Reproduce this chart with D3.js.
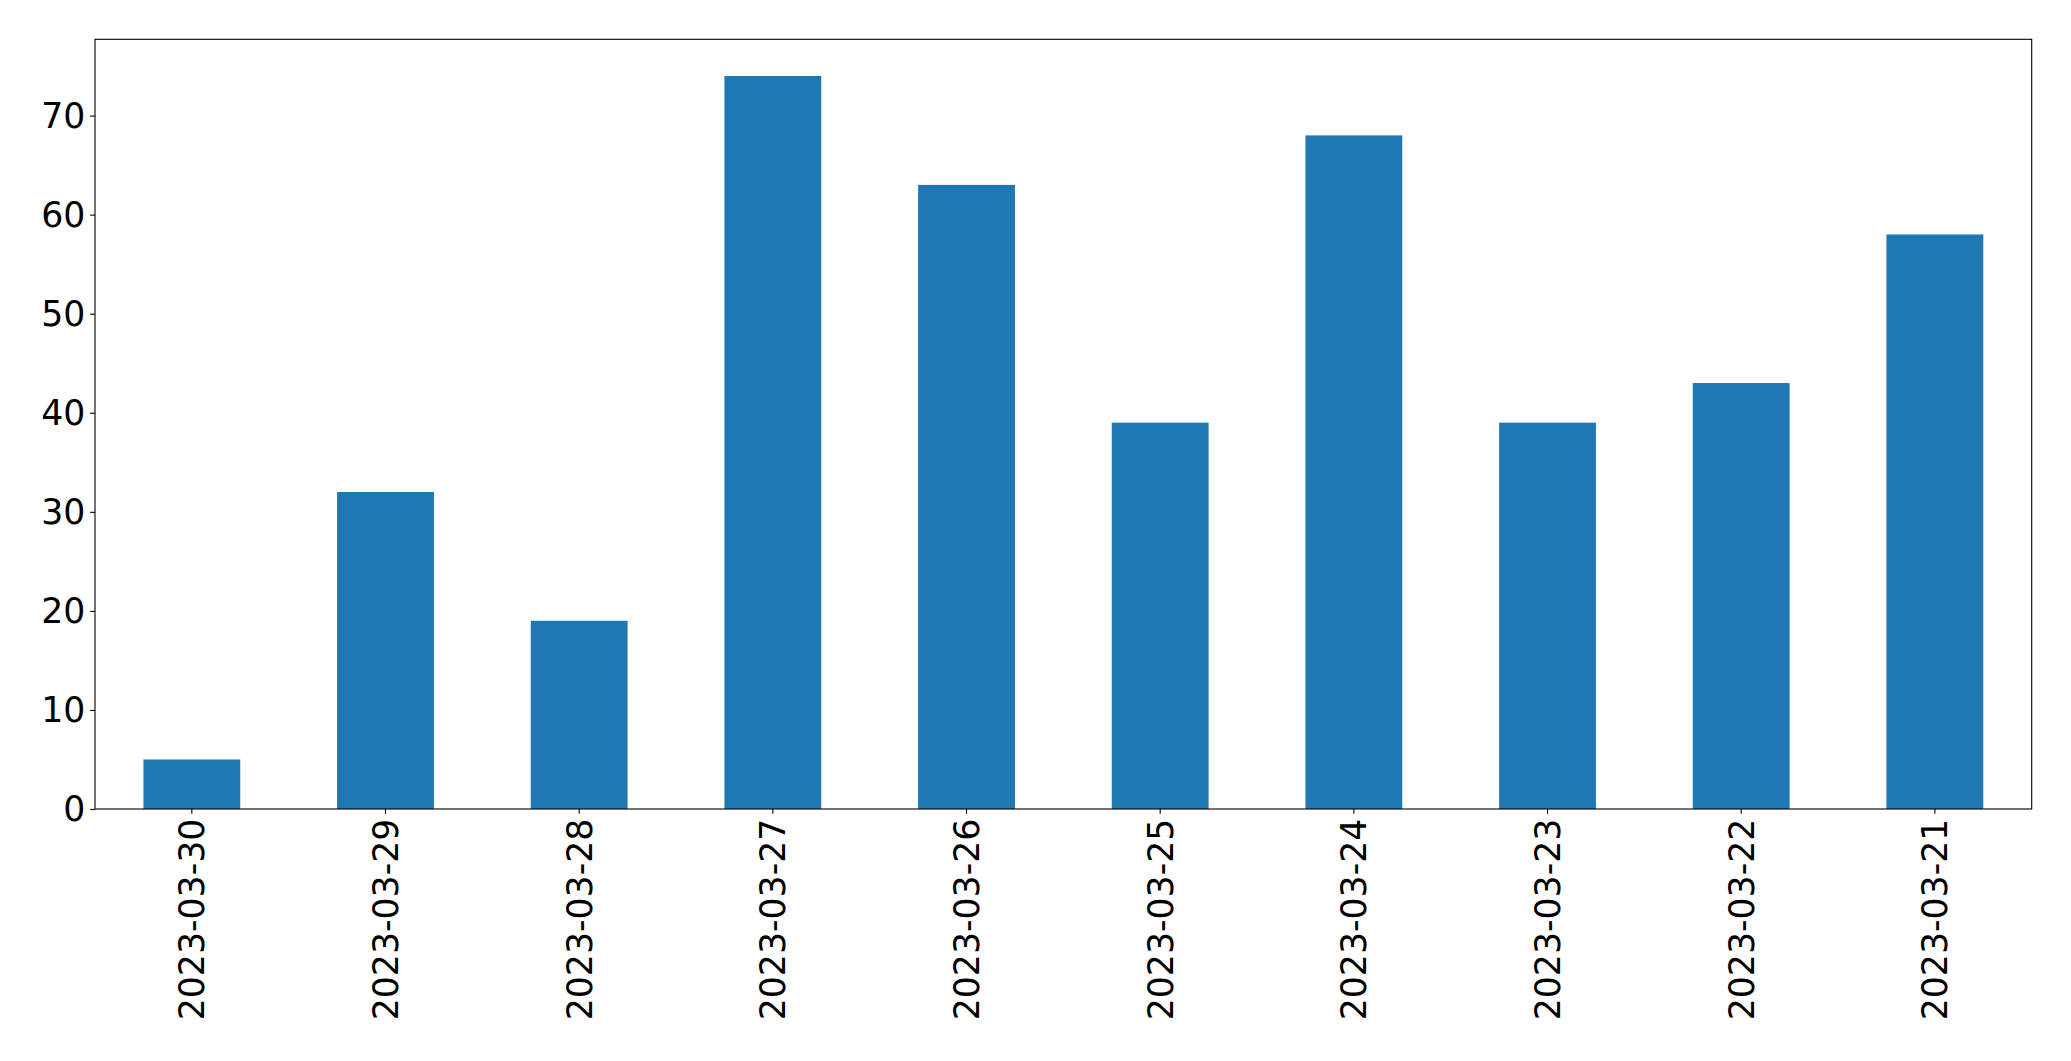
<!DOCTYPE html>
<html><head><meta charset="utf-8">
<script src="https://cdn.jsdelivr.net/npm/d3@7"></script>
<style>body{margin:0;background:#fff}svg{display:block}text{font-family:"DejaVu Sans",sans-serif}</style>
</head><body>
<script>
const categories = ["2023-03-30","2023-03-29","2023-03-28","2023-03-27","2023-03-26","2023-03-25","2023-03-24","2023-03-23","2023-03-22","2023-03-21"];
const values = [5, 32, 19, 74, 63, 39, 68, 39, 43, 58];
const yTicks = [0, 10, 20, 30, 40, 50, 60, 70];

const W = 2071, H = 1061;
const m = {left: 95, right: 2031.7, top: 39.3, bottom: 809};
const fs = 34.7;
const svg = d3.select("body").append("svg").attr("width", W).attr("height", H);

const x = d3.scaleLinear().domain([-0.5, categories.length - 0.5]).range([m.left, m.right]);
const y = d3.scaleLinear().domain([0, d3.max(values) * 1.05]).range([m.bottom, m.top]);

svg.append("g").selectAll("rect").data(values).join("rect")
  .attr("x", (d, i) => x(i - 0.25)).attr("width", (d, i) => x(i + 0.25) - x(i - 0.25))
  .attr("y", d => y(d)).attr("height", d => y(0) - y(d))
  .attr("fill", "#1f77b4");

const yAxis = d3.axisLeft(y).tickValues(yTicks).tickSize(4.86).tickPadding(4.86);
const gy = svg.append("g").attr("transform", `translate(${m.left},0)`).call(yAxis);
gy.select(".domain").remove();
gy.selectAll("line").attr("stroke", "#000").attr("stroke-width", 1.1);
gy.selectAll("text").attr("font-size", fs).attr("fill", "#000").attr("dy", "0.34em").attr("font-family", "DejaVu Sans");

const xb = d3.scaleBand().domain(categories).range([m.left, m.right]);
const xAxis = d3.axisBottom(xb).tickSize(4.86).tickPadding(0);
const gx = svg.append("g").attr("transform", `translate(0,${m.bottom})`).call(xAxis);
gx.select(".domain").remove();
gx.selectAll("line").attr("stroke", "#000").attr("stroke-width", 1.1);
gx.selectAll("text").attr("font-size", fs).attr("fill", "#000").attr("font-family", "DejaVu Sans")
  .attr("text-anchor", "end").attr("dy", "0.36em").attr("y", 0)
  .attr("transform", "translate(0,9.7) rotate(-90)").attr("x", 0);

svg.append("rect").attr("x", m.left).attr("y", m.top)
  .attr("width", m.right - m.left).attr("height", m.bottom - m.top)
  .attr("fill", "none").attr("stroke", "#000").attr("stroke-width", 1.1);
</script>
</body></html>
